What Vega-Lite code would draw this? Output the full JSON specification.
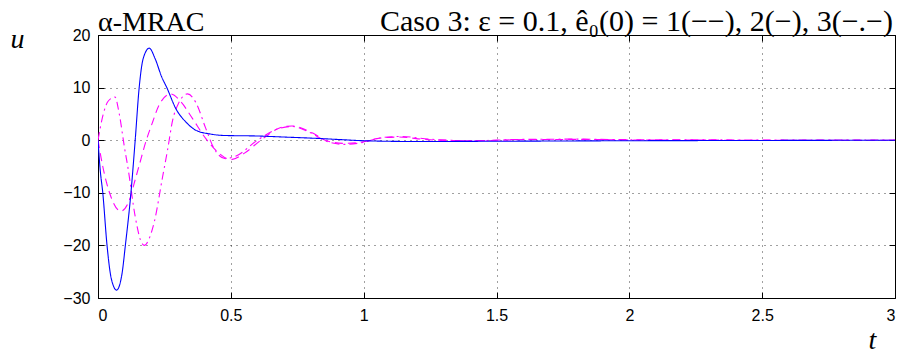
{
  "$schema": "https://vega.github.io/schema/vega-lite/v6.json",
  "width": 797,
  "height": 263,
  "autosize": "none",
  "padding": {"left": 98, "top": 35, "right": 8, "bottom": 56},
  "background": "white",
  "datasets": {
    "curves": [
      {"s": "1", "t": 0, "u": 0},
      {"s": "1", "t": 0.018, "u": -5},
      {"s": "1", "t": 0.049, "u": -10.8},
      {"s": "1", "t": 0.086, "u": -13.5},
      {"s": "1", "t": 0.118, "u": -11.4},
      {"s": "1", "t": 0.14, "u": -7.5},
      {"s": "1", "t": 0.155, "u": -4.8},
      {"s": "1", "t": 0.18, "u": -0.3},
      {"s": "1", "t": 0.206, "u": 3.5},
      {"s": "1", "t": 0.23, "u": 6.7},
      {"s": "1", "t": 0.274, "u": 8.8},
      {"s": "1", "t": 0.312, "u": 7.3},
      {"s": "1", "t": 0.356, "u": 4.1},
      {"s": "1", "t": 0.406, "u": 0.3},
      {"s": "1", "t": 0.456, "u": -2.5},
      {"s": "1", "t": 0.5, "u": -3.7},
      {"s": "1", "t": 0.55, "u": -2.5},
      {"s": "1", "t": 0.613, "u": 0},
      {"s": "1", "t": 0.688, "u": 2.4},
      {"s": "1", "t": 0.73, "u": 2.7},
      {"s": "1", "t": 0.81, "u": 1.3},
      {"s": "1", "t": 0.86, "u": -0.1},
      {"s": "1", "t": 0.926, "u": -0.6},
      {"s": "1", "t": 0.99, "u": -0.4},
      {"s": "1", "t": 1.05, "u": 0.3},
      {"s": "1", "t": 1.13, "u": 0.6},
      {"s": "1", "t": 1.24, "u": 0.1},
      {"s": "1", "t": 1.4, "u": -0.1},
      {"s": "1", "t": 1.6, "u": 0.1},
      {"s": "1", "t": 1.8, "u": 0.15},
      {"s": "1", "t": 2.0, "u": 0.05},
      {"s": "1", "t": 2.5, "u": 0},
      {"s": "1", "t": 3.0, "u": 0},
      {"s": "3", "t": 0, "u": 0},
      {"s": "3", "t": 0.02, "u": 5},
      {"s": "3", "t": 0.038, "u": 7.4},
      {"s": "3", "t": 0.064, "u": 8.2},
      {"s": "3", "t": 0.08, "u": 5},
      {"s": "3", "t": 0.1, "u": -1.5},
      {"s": "3", "t": 0.112, "u": -5},
      {"s": "3", "t": 0.14, "u": -14.5},
      {"s": "3", "t": 0.16, "u": -19},
      {"s": "3", "t": 0.175, "u": -20},
      {"s": "3", "t": 0.19, "u": -19},
      {"s": "3", "t": 0.212, "u": -15.5},
      {"s": "3", "t": 0.243, "u": -7},
      {"s": "3", "t": 0.262, "u": -1.8},
      {"s": "3", "t": 0.281, "u": 3.8},
      {"s": "3", "t": 0.303, "u": 7},
      {"s": "3", "t": 0.337, "u": 8.8},
      {"s": "3", "t": 0.368, "u": 7.2},
      {"s": "3", "t": 0.406, "u": 2.2},
      {"s": "3", "t": 0.437, "u": -1.6},
      {"s": "3", "t": 0.48, "u": -3.5},
      {"s": "3", "t": 0.52, "u": -3.0},
      {"s": "3", "t": 0.6, "u": 0},
      {"s": "3", "t": 0.68, "u": 2.2},
      {"s": "3", "t": 0.73, "u": 2.6},
      {"s": "3", "t": 0.8, "u": 1.4},
      {"s": "3", "t": 0.86, "u": -0.2},
      {"s": "3", "t": 0.93, "u": -0.8},
      {"s": "3", "t": 1.0, "u": -0.4},
      {"s": "3", "t": 1.07, "u": 0.5},
      {"s": "3", "t": 1.14, "u": 0.7},
      {"s": "3", "t": 1.25, "u": 0.2},
      {"s": "3", "t": 1.4, "u": -0.1},
      {"s": "3", "t": 1.6, "u": 0.15},
      {"s": "3", "t": 1.8, "u": 0.2},
      {"s": "3", "t": 2.0, "u": 0.1},
      {"s": "3", "t": 2.5, "u": 0.05},
      {"s": "3", "t": 3.0, "u": 0.05},
      {"s": "2", "t": 0, "u": 0},
      {"s": "2", "t": 0.008, "u": -5.5},
      {"s": "2", "t": 0.018, "u": -10},
      {"s": "2", "t": 0.034, "u": -20},
      {"s": "2", "t": 0.05, "u": -26.3},
      {"s": "2", "t": 0.07, "u": -28.5},
      {"s": "2", "t": 0.09, "u": -25.5},
      {"s": "2", "t": 0.103, "u": -20},
      {"s": "2", "t": 0.124, "u": -10},
      {"s": "2", "t": 0.14, "u": 0},
      {"s": "2", "t": 0.155, "u": 10},
      {"s": "2", "t": 0.17, "u": 15.5},
      {"s": "2", "t": 0.193, "u": 17.5},
      {"s": "2", "t": 0.215, "u": 15.5},
      {"s": "2", "t": 0.24, "u": 12},
      {"s": "2", "t": 0.259, "u": 10},
      {"s": "2", "t": 0.293, "u": 6},
      {"s": "2", "t": 0.33, "u": 3.5},
      {"s": "2", "t": 0.368, "u": 1.9},
      {"s": "2", "t": 0.42, "u": 1.2},
      {"s": "2", "t": 0.475, "u": 0.9},
      {"s": "2", "t": 0.6, "u": 0.8},
      {"s": "2", "t": 0.7, "u": 0.6},
      {"s": "2", "t": 0.8, "u": 0.4},
      {"s": "2", "t": 0.9, "u": 0.15},
      {"s": "2", "t": 1.0, "u": -0.1},
      {"s": "2", "t": 1.2, "u": -0.25},
      {"s": "2", "t": 1.5, "u": -0.2},
      {"s": "2", "t": 2.0, "u": -0.1},
      {"s": "2", "t": 2.5, "u": -0.05},
      {"s": "2", "t": 3.0, "u": 0}
    ],
    "labels": [
      {"t": 0, "u": 20, "txt": "α-MRAC", "pos": "left"},
      {"t": 3, "u": 20, "txt": "Caso 3: ε = 0.1, ê₀(0) = 1(−−), 2(−), 3(−.−)", "pos": "right"}
    ]
  },
  "resolve": {"axis": {"x": "independent", "y": "independent"}},
  "layer": [
    {
      "data": {"name": "curves"},
      "mark": {"type": "line", "interpolate": "monotone", "strokeWidth": 1.1, "clip": true},
      "encoding": {
        "x": {
          "field": "t", "type": "quantitative",
          "scale": {"domain": [0, 3], "nice": false, "zero": false},
          "axis": {"orient": "bottom", "values": [0, 0.5, 1, 1.5, 2, 2.5, 3], "format": "~g", "title": "t", "titleX": 774, "titleY": 50, "titleAlign": "center", "titleBaseline": "alphabetic", "labelPadding": 15}
        },
        "y": {
          "field": "u", "type": "quantitative",
          "scale": {"domain": [-30, 20], "nice": false, "zero": false},
          "axis": {"orient": "left", "values": [-30, -20, -10, 0, 10, 20], "title": "u", "titleAngle": 0, "titleX": -81, "titleY": 12, "titleAlign": "center", "titleBaseline": "alphabetic", "labelPadding": 14}
        },
        "color": {
          "field": "s", "type": "nominal",
          "scale": {"domain": ["1", "2", "3"], "range": ["#ff00ff", "#0000ff", "#ff00ff"]},
          "legend": null
        },
        "strokeDash": {
          "field": "s", "type": "nominal",
          "scale": {"domain": ["1", "2", "3"], "range": [[8, 5], [1, 0], [8, 4, 2, 4]]},
          "legend": null
        },
        "order": {"field": "t", "type": "quantitative"}
      }
    },
    {
      "data": {"name": "labels"},
      "mark": {
        "type": "text", "font": "Liberation Serif",
        "fontSize": {"expr": "datum.pos == 'left' ? 28 : 30"},
        "align": {"expr": "datum.pos == 'left' ? 'left' : 'right'"},
        "dx": {"expr": "datum.pos == 'left' ? 0 : -2"},
        "baseline": "alphabetic", "dy": -4, "color": "black"
      },
      "encoding": {
        "x": {"field": "t", "type": "quantitative", "axis": {"orient": "top", "values": [0, 0.5, 1, 1.5, 2, 2.5, 3], "labels": false, "title": null, "grid": false}},
        "y": {"field": "u", "type": "quantitative", "axis": {"orient": "right", "values": [-30, -20, -10, 0, 10, 20], "labels": false, "title": null, "grid": false}},
        "text": {"field": "txt"}
      }
    }
  ],
  "config": {
    "view": {"stroke": "black", "strokeWidth": 1},
    "axis": {
      "grid": true, "gridColor": "#000", "gridDash": [1, 5], "gridOpacity": 0.75, "gridWidth": 1,
      "domain": false, "ticks": true, "tickColor": "#000", "tickSize": -6,
      "labelFont": "Liberation Sans", "labelFontSize": 16, "labelColor": "#000",
      "titleFont": "Liberation Serif", "titleFontStyle": "italic", "titleFontWeight": "normal", "titleFontSize": 28, "titleColor": "#000"
    }
  }
}
